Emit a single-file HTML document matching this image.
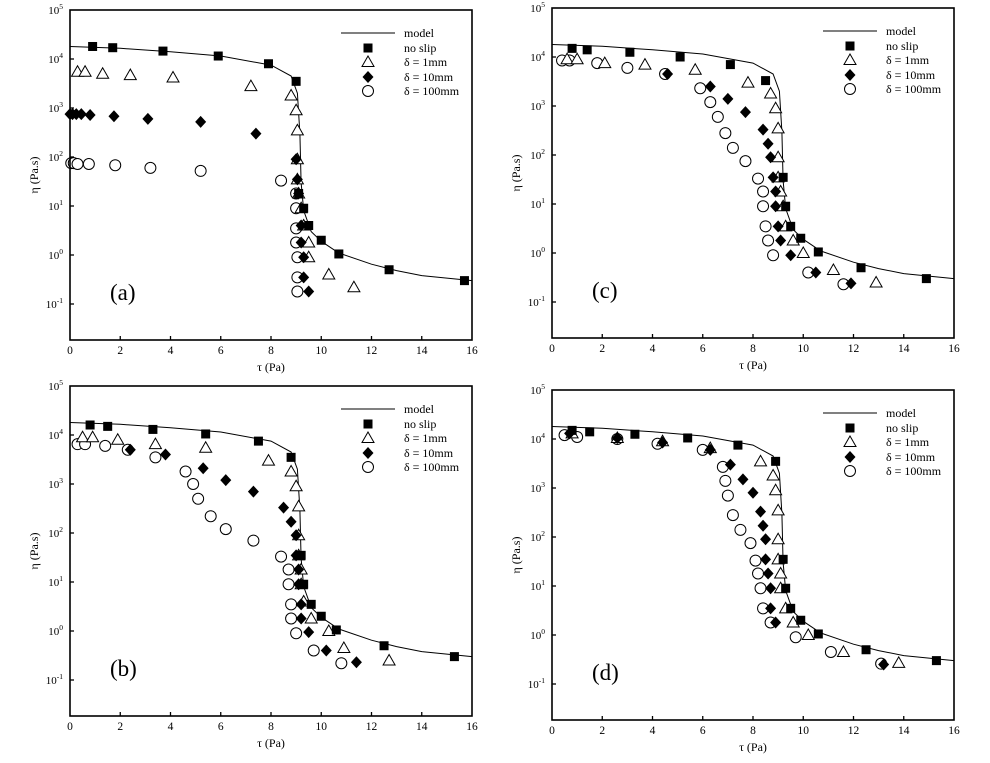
<!DOCTYPE html>
<html><head><meta charset="utf-8">
<style>
html,body{margin:0;padding:0;background:#fff;}
svg{display:block;font-family:"Liberation Serif",serif;}
</style></head>
<body>
<svg id="s" width="990" height="763" viewBox="0 0 990 763" xmlns="http://www.w3.org/2000/svg"></svg>
<script>
const W=402,H=330,DEC=49;
const panels=[
 {x:70,y:10,lab:"(a)",
  ns:[[0.9,1.8e4],[1.7,1.7e4],[3.7,1.45e4],[5.9,1.15e4],[7.9,8e3],[9.0,3.5e3],[9.1,18],[9.3,9],[9.5,4],[10.0,2],[10.7,1.05],[12.7,0.5],[15.7,0.3]],
  tr:[[0.3,5.5e3],[0.6,5.5e3],[1.3,5e3],[2.4,4.7e3],[4.1,4.2e3],[7.2,2.8e3],[8.8,1.8e3],[9.0,900],[9.05,350],[9.05,90],[9.05,35],[9.1,18],[9.2,9],[9.3,4],[9.5,1.8],[9.5,0.9],[10.3,0.4],[11.3,0.22]],
  di:[[0,750],[0.1,750],[0.25,750],[0.45,750],[0.8,720],[1.75,680],[3.1,600],[5.2,520],[7.4,300],[9.0,90],[9.05,35],[9.1,18],[9.2,4],[9.2,1.8],[9.3,0.9],[9.3,0.35],[9.5,0.18]],
  ci:[[0.05,75],[0.15,75],[0.3,72],[0.75,72],[1.8,68],[3.2,60],[5.2,52],[8.4,33],[9.0,18],[9.0,9],[9.0,3.5],[9.0,1.8],[9.05,0.9],[9.05,0.35],[9.05,0.18]]},
 {x:70,y:386,lab:"(b)",
  ns:[[0.8,1.6e4],[1.5,1.5e4],[3.3,1.3e4],[5.4,1.05e4],[7.5,7.5e3],[8.8,3.5e3],[9.2,35],[9.3,9],[9.6,3.5],[10.0,2],[10.6,1.05],[12.5,0.5],[15.3,0.3]],
  tr:[[0.5,9e3],[0.9,9e3],[1.9,8e3],[3.4,6.5e3],[5.4,5.5e3],[7.9,3e3],[8.8,1.8e3],[9.0,900],[9.1,350],[9.1,90],[9.1,35],[9.2,18],[9.2,9],[9.3,4],[9.6,1.8],[10.3,1.0],[10.9,0.45],[12.7,0.25]],
  di:[[2.4,5e3],[3.8,4e3],[5.3,2.1e3],[6.2,1.2e3],[7.3,700],[8.5,330],[8.8,170],[9.0,90],[9.0,35],[9.1,18],[9.1,9],[9.2,3.5],[9.2,1.8],[9.5,0.95],[10.2,0.4],[11.4,0.23]],
  ci:[[0.3,6.5e3],[0.6,6.5e3],[1.4,6e3],[2.3,5e3],[3.4,3.5e3],[4.6,1.8e3],[4.9,1e3],[5.1,500],[5.6,220],[6.2,120],[7.3,70],[8.4,33],[8.7,18],[8.7,9],[8.8,3.5],[8.8,1.8],[9.0,0.9],[9.7,0.4],[10.8,0.22]]},
 {x:552,y:8,lab:"(c)",
  ns:[[0.8,1.5e4],[1.4,1.4e4],[3.1,1.25e4],[5.1,1e4],[7.1,7e3],[8.5,3.3e3],[9.2,35],[9.3,9],[9.5,3.5],[9.9,2],[10.6,1.05],[12.3,0.5],[14.9,0.3]],
  tr:[[0.6,9e3],[1.0,9e3],[2.1,7.5e3],[3.7,7e3],[5.7,5.5e3],[7.8,3e3],[8.7,1.8e3],[8.9,900],[9.0,350],[9.0,90],[9.0,35],[9.1,18],[9.2,9],[9.3,3.5],[9.6,1.8],[10.0,1.0],[11.2,0.45],[12.9,0.25]],
  di:[[4.6,4.5e3],[6.3,2.5e3],[7.0,1.4e3],[7.7,750],[8.4,330],[8.6,170],[8.7,90],[8.8,35],[8.9,18],[8.9,9],[9.0,3.5],[9.1,1.8],[9.5,0.9],[10.5,0.4],[11.9,0.24]],
  ci:[[0.4,8.5e3],[0.7,8.5e3],[1.8,7.5e3],[3.0,6e3],[4.5,4.5e3],[5.9,2.3e3],[6.3,1.2e3],[6.6,600],[6.9,280],[7.2,140],[7.7,75],[8.2,33],[8.4,18],[8.4,9],[8.5,3.5],[8.6,1.8],[8.8,0.9],[10.2,0.4],[11.6,0.23]]},
 {x:552,y:390,lab:"(d)",
  ns:[[0.8,1.5e4],[1.5,1.4e4],[3.3,1.25e4],[5.4,1.05e4],[7.4,7.5e3],[8.9,3.5e3],[9.2,35],[9.3,9],[9.5,3.5],[9.9,2],[10.6,1.05],[12.5,0.5],[15.3,0.3]],
  tr:[[0.8,1.3e4],[2.6,1.05e4],[4.4,9e3],[6.3,6.5e3],[8.3,3.5e3],[8.8,1.8e3],[8.9,900],[9.0,350],[9.0,90],[9.0,35],[9.1,18],[9.1,9],[9.3,3.5],[9.6,1.8],[10.2,1.0],[11.6,0.45],[13.8,0.27]],
  di:[[0.7,1.3e4],[2.6,1.05e4],[4.4,8.5e3],[6.3,6e3],[7.1,3e3],[7.6,1.5e3],[8.0,800],[8.3,330],[8.4,170],[8.5,90],[8.5,35],[8.6,18],[8.7,9],[8.7,3.5],[8.9,1.8],[13.2,0.25]],
  ci:[[0.5,1.2e4],[1.0,1.1e4],[2.6,1e4],[4.2,8e3],[6.0,6e3],[6.8,2.7e3],[6.9,1.4e3],[7.0,700],[7.2,280],[7.5,140],[7.9,75],[8.1,33],[8.2,18],[8.3,9],[8.4,3.5],[8.7,1.8],[9.7,0.9],[11.1,0.45],[13.1,0.26]]}
];
const model=[[0,1.8e4],[2,1.65e4],[4,1.4e4],[6,1.15e4],[8,7.5e3],[8.8,4.5e3],[9.05,2e3],[9.15,300],[9.2,30],[9.3,8],[9.6,3],[10,1.9],[10.7,1.1],[12,0.65],[13,0.48],[14,0.38],[16,0.3]];
let o="";
function sq(x,y){return `<rect x="${x-4.5}" y="${y-4.5}" width="9" height="9" fill="#000"/>`;}
function tri(x,y){return `<polygon points="${x},${y-6} ${x-6},${y+4.5} ${x+6},${y+4.5}" fill="#fff" stroke="#000" stroke-width="1"/>`;}
function dia(x,y){return `<polygon points="${x},${y-6} ${x+5.5},${y} ${x},${y+6} ${x-5.5},${y}" fill="#000"/>`;}
function cir(x,y){return `<circle cx="${x}" cy="${y}" r="5.5" fill="#fff" stroke="#000" stroke-width="1"/>`;}
for(const p of panels){
  const X=t=>p.x+t*W/16, Y=v=>p.y+(5-Math.log10(v))*DEC;
  // model
  o+=`<polyline fill="none" stroke="#000" stroke-width="1" points="${model.map(d=>X(d[0]).toFixed(1)+","+Y(d[1]).toFixed(1)).join(" ")}"/>`;
  for(const d of p.ci)o+=cir(X(d[0]),Y(d[1]));
  for(const d of p.tr)o+=tri(X(d[0]),Y(d[1]));
  for(const d of p.di)o+=dia(X(d[0]),Y(d[1]));
  for(const d of p.ns)o+=sq(X(d[0]),Y(d[1]));
  // axes box
  o+=`<rect x="${p.x}" y="${p.y}" width="${W}" height="${H}" fill="none" stroke="#000" stroke-width="1.6"/>`;
  for(let i=0;i<=8;i++){const x=p.x+i*W/8;
    if(i>0&&i<8)o+=`<line x1="${x}" y1="${p.y+H}" x2="${x}" y2="${p.y+H-4}" stroke="#000" stroke-width="1.3"/>`;
    o+=`<text x="${x}" y="${p.y+H+14}" font-size="11.5" text-anchor="middle">${i*2}</text>`;}
  for(let e=5;e>=-1;e--){const y=p.y+(5-e)*DEC;
    if(e<5)o+=`<line x1="${p.x}" y1="${y}" x2="${p.x+4}" y2="${y}" stroke="#000" stroke-width="1.3"/>`;
    o+=`<text x="${p.x-7}" y="${y+4}" font-size="11" text-anchor="end">10<tspan font-size="7.5" dy="-5">${e}</tspan></text>`;}
  o+=`<text x="${p.x+W/2}" y="${p.y+H+31}" font-size="12" text-anchor="middle">τ (Pa)</text>`;
  o+=`<text transform="translate(${p.x-32},${p.y+H/2}) rotate(-90)" font-size="12" text-anchor="middle">η (Pa.s)</text>`;
  o+=`<text x="${p.x+40}" y="${p.y+290}" font-size="23">${p.lab}</text>`;
  // legend
  const lx=p.x, ly=p.y;
  o+=`<line x1="${lx+271}" y1="${ly+23}" x2="${lx+325}" y2="${ly+23}" stroke="#000" stroke-width="1"/>`;
  o+=sq(lx+298,ly+38)+tri(lx+298,ly+52)+dia(lx+298,ly+67)+cir(lx+298,ly+81);
  const names=["model","no slip","δ = 1mm","δ = 10mm","δ = 100mm"];
  [23,38,52,67,81].forEach((dy,i)=>{o+=`<text x="${lx+334}" y="${ly+dy+4}" font-size="12">${names[i]}</text>`;});
}
document.getElementById("s").innerHTML=o;
</script>
</body></html>
